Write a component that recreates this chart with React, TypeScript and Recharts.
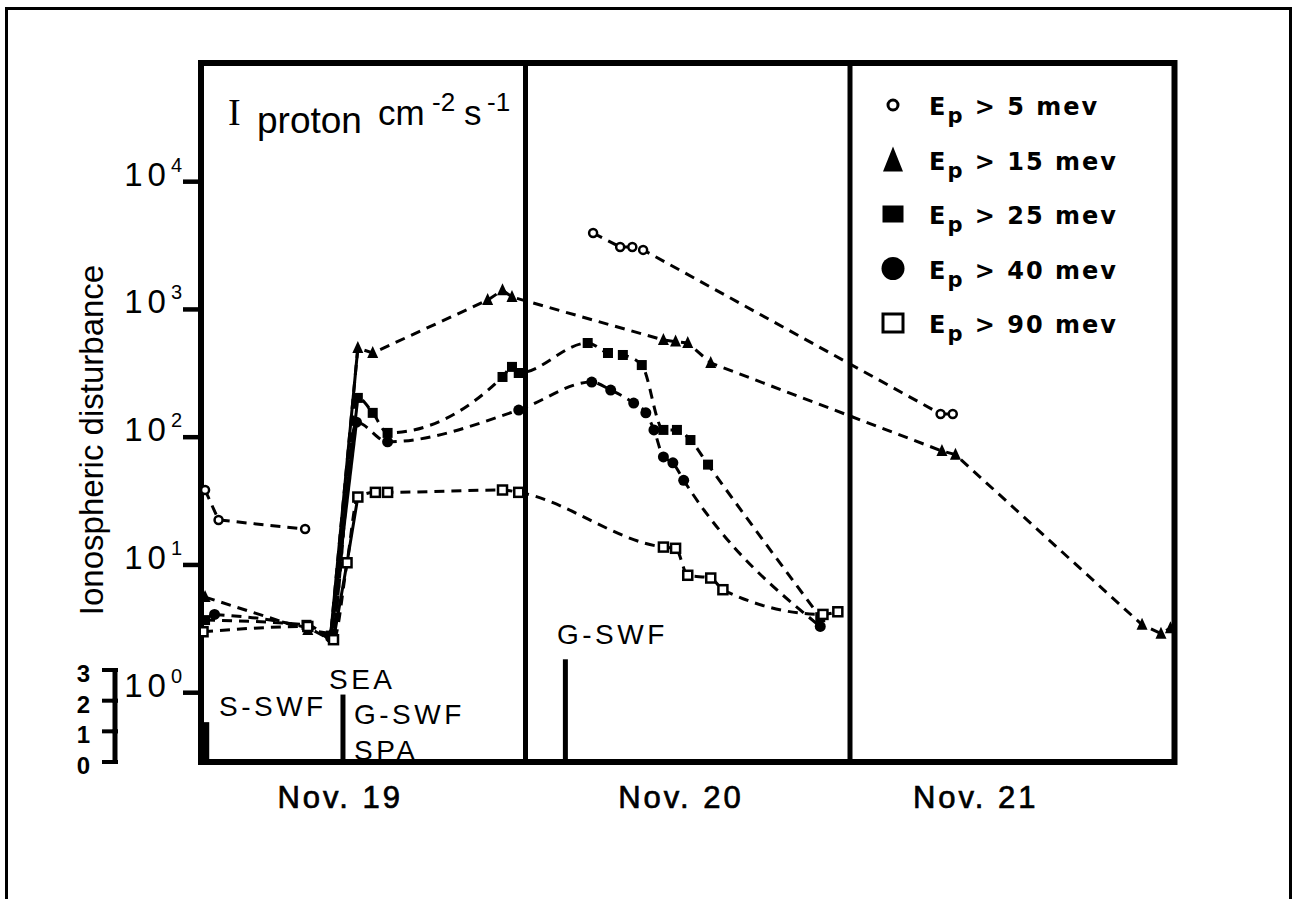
import React from 'react';
import { ComposedChart, Line, XAxis, YAxis, ReferenceLine, ReferenceArea, Legend } from 'recharts';

// ---------- data ----------
const dayLabels = ['Nov. 19', 'Nov. 20', 'Nov. 21'];
const dayLabelHours = [10.3, 35.5, 57.3];
const dayBoundaries = [24, 48];
const fluxTicks = [1, 10, 100, 1000, 10000];
const disturbanceTicks = [0, 1, 2, 3];
const eventHours = [0.35, 10.5, 26.95];
const eventLevels = [1.3, 2.2, 3.35];
const legendThresholds = ['5', '15', '25', '40', '90'];

// hours since Nov 19 00:00, flux (proton cm^-2 s^-1)
const ep5 = [
  { t: 0.3, v: 38.6 }, { t: 1.3, v: 22.5 }, { t: 7.7, v: 19.1 },
  { t: 15, v: null },
  { t: 29.0, v: 3965 }, { t: 31.0, v: 3083 }, { t: 31.9, v: 3083 }, { t: 32.7, v: 2924 },
  { t: 54.7, v: 152 }, { t: 55.6, v: 152 },
];
const ep15 = [
  { t: 0.3, v: 5.6 }, { t: 7.9, v: 3.1 }, { t: 9.6, v: 2.9 },
  { t: 11.6, v: 499 }, { t: 12.7, v: 456 }, { t: 21.2, v: 1183 }, { t: 22.3, v: 1416 }, { t: 23.0, v: 1251 },
  { t: 34.2, v: 577 }, { t: 35.1, v: 560 }, { t: 36.0, v: 546 }, { t: 37.7, v: 381 },
  { t: 54.8, v: 78 }, { t: 55.8, v: 73 }, { t: 69.6, v: 3.4 }, { t: 71.0, v: 2.9 }, { t: 71.7, v: 3.2 },
];
const ep25 = [
  { t: 0.3, v: 3.7 }, { t: 7.8, v: 3.4 }, { t: 9.6, v: 2.8 },
  { t: 11.6, v: 203 }, { t: 12.7, v: 155 }, { t: 13.8, v: 108 }, { t: 22.3, v: 296 }, { t: 23.0, v: 355 }, { t: 23.5, v: 318 },
  { t: 28.6, v: 546 }, { t: 30.1, v: 456 }, { t: 31.2, v: 440 }, { t: 32.6, v: 367 },
  { t: 34.2, v: 114 }, { t: 35.2, v: 114 }, { t: 36.2, v: 95 }, { t: 37.5, v: 61 }, { t: 45.8, v: 3.9 },
];
const ep40 = [
  { t: 1.0, v: 4.1 }, { t: 7.9, v: 3.2 }, { t: 9.6, v: 2.7 },
  { t: 11.5, v: 131 }, { t: 13.8, v: 92 }, { t: 23.5, v: 163 },
  { t: 28.9, v: 270 }, { t: 30.3, v: 234 }, { t: 32.0, v: 185 }, { t: 32.9, v: 155 }, { t: 33.5, v: 114 },
  { t: 34.2, v: 70 }, { t: 34.9, v: 63 }, { t: 35.7, v: 46 }, { t: 45.8, v: 3.3 },
];
const ep90 = [
  { t: 0.15, v: 3.0 }, { t: 7.9, v: 3.3 }, { t: 9.8, v: 2.6 },
  { t: 10.8, v: 10.4 }, { t: 11.6, v: 34 }, { t: 12.9, v: 37 }, { t: 13.8, v: 37 }, { t: 22.3, v: 38.6 }, { t: 23.5, v: 37 },
  { t: 34.2, v: 13.8 }, { t: 35.1, v: 13.5 }, { t: 36.0, v: 8.3 }, { t: 37.7, v: 7.9 }, { t: 38.6, v: 6.4 },
  { t: 46.0, v: 4.1 }, { t: 47.1, v: 4.3 },
];

// ---------- layout ----------
const W = 1292;
const H = 899;
const PLOT_LEFT = 201;
const PLOT_TOP = 63;
const PLOT_BOTTOM = 762;
const PLOT_H = PLOT_BOTTOM - PLOT_TOP;
const HOURS = 72;
const LOG_MIN = 0.2868;
const LOG_MAX = 84900;
const DIST_MAX = 22.8;
const LOG_TICK_LEN = 18;
const SANS = '"Liberation Sans", Arial, sans-serif';
const FLUX = 'a_flux';
const DIST = 'b_dist';

// same log mapping as the flux axis (used only for the axis tick stubs)
const fluxToY = (v: number) =>
  PLOT_BOTTOM - ((Math.log10(v) - Math.log10(LOG_MIN)) / (Math.log10(LOG_MAX) - Math.log10(LOG_MIN))) * PLOT_H;

type Shape = 'openCircle' | 'triangle' | 'square' | 'circle' | 'openSquare';

const drawMarker = (shape: Shape, cx: number, cy: number, big = false, key?: any) => {
  switch (shape) {
    case 'openCircle':
      return <circle key={key} cx={cx} cy={cy} r={4 + (big ? 1 : 0)} fill="#fff" stroke="#000" strokeWidth={2.5 + (big ? 0.5 : 0)} />;
    case 'triangle':
      return big
        ? <polygon key={key} points={`${cx},${cy - 13} ${cx - 10},${cy + 12} ${cx + 10},${cy + 12}`} fill="#000" />
        : <polygon key={key} points={`${cx},${cy - 7} ${cx - 5.5},${cy + 5} ${cx + 5.5},${cy + 5}`} fill="#000" />;
    case 'square':
      return big
        ? <rect key={key} x={cx - 10.5} y={cy - 8.5} width={21} height={17} fill="#000" />
        : <rect key={key} x={cx - 5} y={cy - 5} width={10} height={10} fill="#000" />;
    case 'circle':
      return <circle key={key} cx={cx} cy={cy} r={big ? 11.5 : 5.5} fill="#000" />;
    case 'openSquare':
      return big
        ? <rect key={key} x={cx - 10} y={cy - 9} width={20} height={18} fill="#fff" stroke="#000" strokeWidth={3} />
        : <rect key={key} x={cx - 4.5} y={cy - 4.5} width={9} height={9} fill="#fff" stroke="#000" strokeWidth={2.5} />;
  }
  return <g key={key} />;
};

const makeDot = (shape: Shape) => (props: any) => {
  const { cx, cy, index, payload } = props;
  if (cx == null || cy == null || payload == null || payload.v == null || isNaN(cy)) return <g key={`d${index}`} />;
  return drawMarker(shape, cx, cy, false, `d${index}`);
};

const series: { name: string; data: any[]; shape: Shape; curve: any }[] = [
  { name: 'Ep > 5 mev', data: ep5, shape: 'openCircle', curve: 'linear' },
  { name: 'Ep > 15 mev', data: ep15, shape: 'triangle', curve: 'linear' },
  { name: 'Ep > 25 mev', data: ep25, shape: 'square', curve: 'monotone' },
  { name: 'Ep > 40 mev', data: ep40, shape: 'circle', curve: 'monotone' },
  { name: 'Ep > 90 mev', data: ep90, shape: 'openSquare', curve: 'monotone' },
];

// steep onset segments (drawn solid) taken from the series themselves
const riseSegments = [ep15.slice(2, 4), ep25.slice(2, 4), ep40.slice(2, 4), ep90.slice(2, 5)];

const LogTick = (props: any) => {
  const { x, y, payload } = props;
  const exp = Math.round(Math.log10(payload.value));
  return (
    <g>
      <text x={x - 1} y={y + 4} textAnchor="end" fontFamily={SANS} fontSize={33} letterSpacing={5} fill="#000">
        10<tspan dy={-14} fontSize={20} letterSpacing={0}>{exp}</tspan>
      </text>
    </g>
  );
};

const DistTick = (props: any) => {
  const { x, y, payload } = props;
  const step = PLOT_H / DIST_MAX;
  return (
    <g>
      <line x1={x - 18} x2={x - 2} y1={y} y2={y} stroke="#000" strokeWidth={4} />
      {payload.value > 0 && (
        <line x1={x - 5} x2={x - 5} y1={y - 2} y2={y + step + 2} stroke="#000" strokeWidth={5} />
      )}
      <text x={x - 30} y={y + 12} textAnchor="end" fontFamily={SANS} fontWeight="bold" fontSize={24} fill="#000">
        {payload.value}
      </text>
    </g>
  );
};

const DayTick = (props: any) => {
  const { x, y, payload } = props;
  const i = dayLabelHours.indexOf(payload.value);
  return (
    <text
      x={x} y={y + 46} textAnchor="middle" fontFamily={SANS} fontSize={31} letterSpacing={3}
      fill="#000" stroke="#000" strokeWidth={0.7}
    >
      {dayLabels[i]}
    </text>
  );
};

const LEG_LEFT = 860;
const LEG_TOP = 80;
const LegendBox = () => (
  <svg width={290} height={280} style={{ overflow: 'visible' }}>
    {series.map((s, i) => {
      const bl = 115 - LEG_TOP + i * 54.5;
      return (
        <g key={s.name}>
          {drawMarker(s.shape, 893 - LEG_LEFT, bl - 10, true)}
          <text x={929 - LEG_LEFT} y={bl} fontFamily='"DejaVu Sans", sans-serif' fontWeight="bold" fontSize={24} letterSpacing={2} fill="#000">
            E<tspan dy={8} fontSize={21}>p</tspan>
            <tspan dy={-8}>{` > ${legendThresholds[i]} mev`}</tspan>
          </text>
        </g>
      );
    })}
  </svg>
);

const labelStyle = { fontFamily: SANS, fontSize: 28, letterSpacing: 3.5, fill: '#000' } as const;

export default function App() {
  return (
    <div style={{ position: 'absolute', left: 0, top: 0, width: W, height: H, background: '#fff', overflow: 'hidden' }}>
      <div
        style={{
          position: 'absolute', left: 5, top: 7, width: 1287, height: 900, boxSizing: 'border-box',
          borderLeft: '3px solid #000', borderTop: '3px solid #000', borderRight: '3px solid #000',
        }}
      />
      <div style={{ position: 'absolute', left: 0, top: 0 }}>
        <ComposedChart width={W} height={H} margin={{ top: PLOT_TOP, right: 117.5, bottom: 97, left: 58 }}>
          <XAxis
            dataKey="t" type="number" domain={[0, HOURS]} allowDataOverflow ticks={dayLabelHours}
            tick={<DayTick />} axisLine={false} tickLine={false} tickSize={0} tickMargin={0} height={40}
          />
          <YAxis
            yAxisId={FLUX} orientation="left" scale="log" domain={[LOG_MIN, LOG_MAX]} allowDataOverflow
            ticks={fluxTicks} tick={<LogTick />} axisLine={false} tickLine={false}
            tickSize={LOG_TICK_LEN} tickMargin={0} width={81}
          />
          <YAxis
            yAxisId={DIST} orientation="left" type="number" domain={[0, DIST_MAX]} allowDataOverflow
            ticks={disturbanceTicks} tick={<DistTick />} axisLine={false} tickLine={false}
            tickSize={0} tickMargin={0} width={62}
          />
          <ReferenceArea
            yAxisId={FLUX} x1={0} x2={HOURS} y1={LOG_MIN} y2={LOG_MAX} fill="none" fillOpacity={0}
            stroke="#000" strokeWidth={6} ifOverflow="visible"
          />
          {dayBoundaries.map((h) => (
            <ReferenceLine key={`day${h}`} yAxisId={FLUX} x={h} stroke="#000" strokeWidth={5} />
          ))}
          {eventHours.map((h, i) => (
            <ReferenceLine
              key={`ev${i}`} yAxisId={DIST} ifOverflow="visible"
              segment={[{ x: h, y: 0 }, { x: h, y: eventLevels[i] }]} stroke="#000" strokeWidth={i === 0 ? 7 : 5}
            />
          ))}
          {riseSegments.map((seg, i) => (
            <Line
              key={`rise${i}`} yAxisId={FLUX} data={seg} dataKey="v" type="linear" stroke="#000" strokeWidth={3}
              dot={false} activeDot={false} isAnimationActive={false} legendType="none"
            />
          ))}
          {series.map((s) => (
            <Line
              key={s.name} name={s.name} yAxisId={FLUX} data={s.data} dataKey="v" type={s.curve}
              stroke="#000" strokeWidth={3} strokeDasharray="10 7" connectNulls={false}
              dot={makeDot(s.shape)} activeDot={false} isAnimationActive={false}
            />
          ))}
          <Legend
            layout="vertical" align="center" verticalAlign="middle" content={() => <LegendBox />}
            wrapperStyle={{ position: 'absolute', left: LEG_LEFT, top: LEG_TOP, width: 290, height: 280 }}
          />
        </ComposedChart>
      </div>
      <svg width={W} height={H} style={{ position: 'absolute', left: 0, top: 0, pointerEvents: 'none' }}>
        {fluxTicks.map((v) => (
          <line
            key={`stub${v}`} x1={PLOT_LEFT - LOG_TICK_LEN} x2={PLOT_LEFT} y1={fluxToY(v)} y2={fluxToY(v)}
            stroke="#000" strokeWidth={4.5}
          />
        ))}
        <text
          x={103} y={440} transform="rotate(-90 103 440)" textAnchor="middle"
          fontFamily={SANS} fontSize={33} fill="#000"
        >
          Ionospheric disturbance
        </text>
        <text x={228} y={125} fontFamily='"Liberation Serif", "Times New Roman", serif' fontSize={38} fill="#000">I</text>
        <text x={257} y={133} fontFamily={SANS} fontSize={37} fill="#000">proton</text>
        <text x={378} y={125} fontFamily={SANS} fontSize={35} fill="#000">cm</text>
        <text x={432} y={111} fontFamily={SANS} fontSize={26} fill="#000">-2</text>
        <text x={464} y={125} fontFamily={SANS} fontSize={35} fill="#000">s</text>
        <text x={487} y={111} fontFamily={SANS} fontSize={26} fill="#000">-1</text>
        <text x={219} y={716} {...labelStyle}>S-SWF</text>
        <text x={329} y={689} {...labelStyle}>SEA</text>
        <text x={354} y={724} {...labelStyle}>G-SWF</text>
        <text x={354} y={760} {...labelStyle}>SPA</text>
        <text x={557} y={644} {...labelStyle}>G-SWF</text>
      </svg>
    </div>
  );
}
